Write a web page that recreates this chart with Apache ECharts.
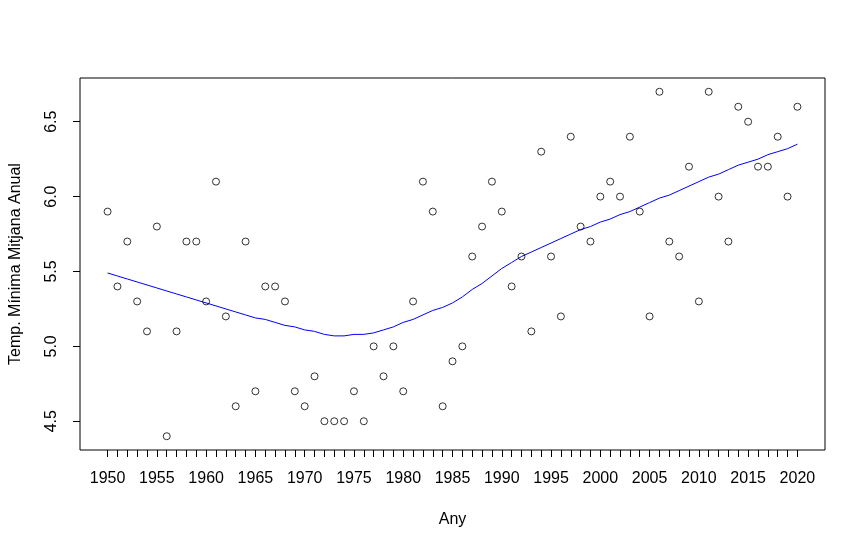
<!DOCTYPE html>
<html>
<head>
<meta charset="utf-8">
<script src="https://cdn.jsdelivr.net/npm/echarts@6/dist/echarts.min.js"></script>
<style>
  html, body { margin: 0; padding: 0; background: #fff; }
  #chart { width: 866px; height: 548px; }
</style>
</head>
<body>
<div id="chart"></div>
<script>
// anys 1950-2020
var years = [
  1950, 1951, 1952, 1953, 1954, 1955, 1956, 1957, 1958, 1959,
  1960, 1961, 1962, 1963, 1964, 1965, 1966, 1967, 1968, 1969,
  1970, 1971, 1972, 1973, 1974, 1975, 1976, 1977, 1978, 1979,
  1980, 1981, 1982, 1983, 1984, 1985, 1986, 1987, 1988, 1989,
  1990, 1991, 1992, 1993, 1994, 1995, 1996, 1997, 1998, 1999,
  2000, 2001, 2002, 2003, 2004, 2005, 2006, 2007, 2008, 2009,
  2010, 2011, 2012, 2013, 2014, 2015, 2016, 2017, 2018, 2019,
  2020
];

// temperatura minima mitjana anual
var tempMin = [
  5.9, 5.4, 5.7, 5.3, 5.1, 5.8, 4.4, 5.1, 5.7, 5.7,
  5.3, 6.1, 5.2, 4.6, 5.7, 4.7, 5.4, 5.4, 5.3, 4.7,
  4.6, 4.8, 4.5, 4.5, 4.5, 4.7, 4.5, 5.0, 4.8, 5.0,
  4.7, 5.3, 6.1, 5.9, 4.6, 4.9, 5.0, 5.6, 5.8, 6.1,
  5.9, 5.4, 5.6, 5.1, 6.3, 5.6, 5.2, 6.4, 5.8, 5.7,
  6.0, 6.1, 6.0, 6.4, 5.9, 5.2, 6.7, 5.7, 5.6, 6.2,
  5.3, 6.7, 6.0, 5.7, 6.6, 6.5, 6.2, 6.2, 6.4, 6.0,
  6.6
];

// corba lowess (llegida del grafic)
var lowessFit = [
  5.49, 5.47, 5.45, 5.43, 5.41, 5.39, 5.37, 5.35, 5.33, 5.31,
  5.29, 5.27, 5.25, 5.23, 5.21, 5.19, 5.18, 5.16, 5.14, 5.13,
  5.11, 5.10, 5.08, 5.07, 5.07, 5.08, 5.08, 5.09, 5.11, 5.13,
  5.16, 5.18, 5.21, 5.24, 5.26, 5.29, 5.33, 5.38, 5.42, 5.47,
  5.52, 5.56, 5.60, 5.63, 5.66, 5.69, 5.72, 5.75, 5.78, 5.80,
  5.83, 5.85, 5.88, 5.90, 5.93, 5.96, 5.99, 6.01, 6.04, 6.07,
  6.10, 6.13, 6.15, 6.18, 6.21, 6.23, 6.25, 6.28, 6.30, 6.32,
  6.35
];

var xLabels = [1950, 1955, 1960, 1965, 1970, 1975, 1980, 1985, 1990, 1995, 2000, 2005, 2010, 2015, 2020];
var yTicks = [4.5, 5.0, 5.5, 6.0, 6.5];

var chart = echarts.init(document.getElementById('chart'), null, { renderer: 'canvas' });

var font = 'Liberation Sans, Arial, sans-serif';

var option = {
  backgroundColor: '#fff',
  animation: false,
  grid: {
    left: 78,
    right: 41,
    top: 78,
    bottom: 98,
    show: true,
    borderColor: '#000',
    borderWidth: 1,
    backgroundColor: 'transparent'
  },
  xAxis: {
    type: 'value',
    min: 1947.2,
    max: 2022.8,
    name: 'Any',
    nameLocation: 'middle',
    nameGap: 62,
    nameTextStyle: { color: '#000', fontSize: 16, fontFamily: font },
    axisLine: { show: false },
    splitLine: { show: false },
    axisTick: {
      show: true,
      length: 7,
      customValues: years,
      lineStyle: { color: '#000', width: 1 }
    },
    axisLabel: {
      show: true,
      customValues: xLabels,
      margin: 21,
      color: '#000',
      fontSize: 16,
      fontFamily: font,
      formatter: function (v) { return String(v); }
    }
  },
  yAxis: {
    type: 'value',
    min: 4.308,
    max: 6.792,
    name: 'Temp. Mínima Mitjana Anual',
    nameLocation: 'middle',
    nameGap: 56,
    nameTextStyle: { color: '#000', fontSize: 16, fontFamily: font },
    axisLine: { show: false },
    splitLine: { show: false },
    axisTick: {
      show: true,
      length: 7,
      customValues: yTicks,
      lineStyle: { color: '#000', width: 1 }
    },
    axisLabel: {
      show: true,
      customValues: yTicks,
      rotate: 90,
      margin: 20,
      color: '#000',
      fontSize: 16,
      fontFamily: font,
      formatter: function (v) { return v.toFixed(1); }
    }
  },
  series: [
    {
      name: 'tempMin',
      type: 'scatter',
      symbol: 'circle',
      symbolSize: 7,
      itemStyle: { color: 'rgba(0,0,0,0)', borderColor: '#000', borderWidth: 1 },
      data: years.map(function (y, i) { return [y, tempMin[i]]; }),
      z: 3
    },
    {
      name: 'lowess',
      type: 'line',
      showSymbol: false,
      symbol: 'none',
      smooth: false,
      lineStyle: { color: '#0000ff', width: 1 },
      data: years.map(function (y, i) { return [y, lowessFit[i]]; }),
      z: 2
    }
  ]
};

chart.setOption(option);
</script>
</body>
</html>
